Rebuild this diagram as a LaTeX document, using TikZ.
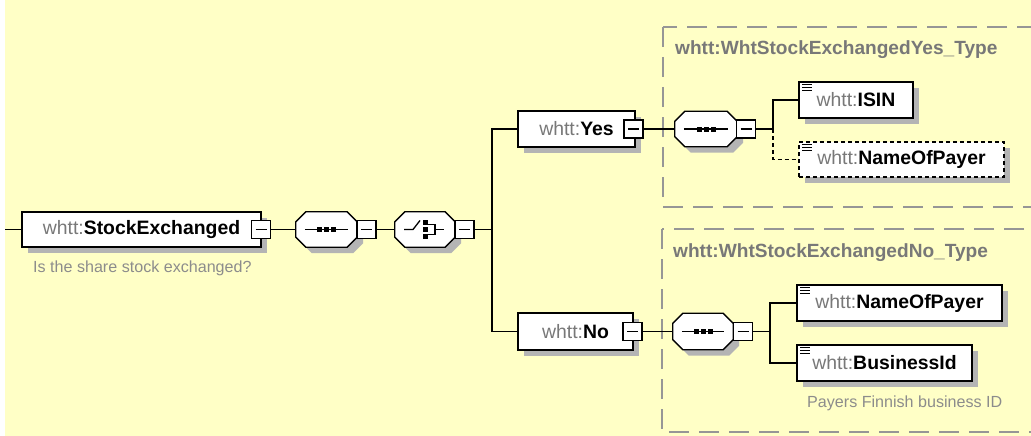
\documentclass[tikz,border=0pt]{standalone}
\usepackage{fontspec}
\setmainfont{Liberation Sans}
\usetikzlibrary{shadows}
\definecolor{bg}{RGB}{255,255,198}
\definecolor{shadowc}{RGB}{180,180,180}
\definecolor{tgrey}{RGB}{120,120,120}
\definecolor{dgrey}{RGB}{140,140,140}
\definecolor{framec}{RGB}{150,150,150}
\newcommand\wt[1]{{\color{tgrey}\mdseries whtt:}\textbf{#1}}
\newcommand\octagon[1]{%
  \fill[shadowc] ([shift={(16,6)}]#1.north west) -- ([shift={(-4,6)}]#1.north east) -- ([shift={(6,16)}]#1.north east) -- ([shift={(6,-4)}]#1.south east) -- ([shift={(-4,6)}]#1.south east) -- ([shift={(16,6)}]#1.south west) -- ([shift={(6,-4)}]#1.south west) -- ([shift={(6,16)}]#1.north west) -- cycle;
  \filldraw[fill=white, line width=1.3pt] ([shift={(10,0)}]#1.north west) -- ([shift={(-10,0)}]#1.north east) -- ([shift={(0,10)}]#1.north east) -- ([shift={(0,-10)}]#1.south east) -- ([shift={(-10,0)}]#1.south east) -- ([shift={(10,0)}]#1.south west) -- ([shift={(0,-10)}]#1.south west) -- ([shift={(0,10)}]#1.north west) -- cycle;}
\newcommand\seqicon[1]{%
  \draw[conn] ([xshift=9pt]#1.west) -- ([xshift=-9pt]#1.east);
  \foreach \dx in {-7,0,7} \fill ([shift={(\dx-2.5,-2.5)}]#1.center) rectangle +(5,5);}
\newcommand\choiceicon[1]{%
  \draw[conn] ([shift={(-21,0)}]#1.center) -- ([shift={(-12,0)}]#1.center) -- ([shift={(-5,-9)}]#1.center);
  \foreach \dy in {-7,0,7} \fill ([shift={(-2.5,\dy-2.5)}]#1.center) rectangle +(5,5);
  \draw[conn] ([shift={(3,-5)}]#1.center) -- ([shift={(10,-5)}]#1.center) -- ([shift={(10,5)}]#1.center) -- ([shift={(3,5)}]#1.center);
  \draw[conn] ([shift={(10,0)}]#1.center) -- ([shift={(19,0)}]#1.center);}
\newcommand\simpleicon[1]{%
  \foreach \d in {3,6,9} \draw[line width=1.4pt] ([shift={(4,\d)}]#1.north west) -- ++(10,0);}
\tikzset{
  conn/.style={line width=1.3pt},
  dconn/.style={line width=1.3pt, dash pattern=on 4pt off 3pt},
  elem/.style={draw, line width=1.3pt, fill=white, minimum height=36pt, inner sep=0pt,
    font=\fontsize{19.4}{21}\selectfont,
    drop shadow={shadow xshift=6pt, shadow yshift=-6pt, fill=shadowc, opacity=1}},
  minusbox/.style={draw, line width=1.3pt, fill=white, minimum width=19pt, minimum height=18pt, inner sep=0pt,
    path picture={\draw[line width=1.3pt] ([xshift=4pt]path picture bounding box.west) -- ([xshift=-4pt]path picture bounding box.east);}},
  octnode/.style={minimum width=61pt, minimum height=35pt, inner sep=0pt},
  frame/.style={draw=framec, line width=1.5pt, dash pattern=on 20pt off 10pt},
  title/.style={anchor=west, text=tgrey, font=\fontsize{19.1}{21}\selectfont\bfseries, inner sep=0pt},
  descr/.style={anchor=west, text=dgrey, font=\fontsize{16.1}{18}\selectfont, inner sep=0pt},
}
\begin{document}
\begin{tikzpicture}[x=1pt,y=-1pt]
\useasboundingbox (0,0) rectangle (1031,436);
\clip (0,0) rectangle (1031,436);
\fill[bg] (0,0) rectangle (1031,436);
\fill[white] (0,0) rectangle (5,436);
% frames
\draw[frame] (663,27) rectangle (1045,207);
\draw[frame] (662,229) rectangle (1045,432);
\node[title] (ytitle) at (675,50) {whtt:WhtStockExchangedYes\_Type};
\node[title] (ntitle) at (673,253) {whtt:WhtStockExchangedNo\_Type};
% root
\node[elem, minimum width=239pt, minimum height=35pt] (se) at (141.5,229.5) {\wt{StockExchanged}};
\node[minusbox] (sem) at (261,229.5) {};
\node[descr] (sedesc) at (33,268) {Is the share stock exchanged?};
\coordinate (start) at (5,229.5);
% sequence 1
\node[octnode] (seq1) at (326.5,229.5) {};
\octagon{seq1}\seqicon{seq1}
\node[minusbox] (seq1m) at (366.5,229.5) {};
% choice
\node[octnode, minimum width=60pt] (ch) at (425,229.5) {};
\octagon{ch}\choiceicon{ch}
\node[minusbox] (chm) at (464.5,229.5) {};
\coordinate (jn) at (492,229.5);
% Yes / No
\node[elem, minimum width=117pt] (yes) at (576.5,129) {\wt{Yes}};
\node[minusbox] (yesm) at (633.5,129) {};
\node[elem, minimum width=115pt, minimum height=37pt] (no) at (575.5,331.5) {\wt{No}};
\node[minusbox] (nom) at (632.5,331.5) {};
% Yes type
\node[octnode, minimum width=62pt] (yseq) at (706,129) {};
\octagon{yseq}\seqicon{yseq}
\node[minusbox] (yseqm) at (746,129) {};
\coordinate (yj) at (773,129);
\node[elem, minimum width=114pt] (isin) at (856,100) {\wt{ISIN}};
\simpleicon{isin}
\node[elem, minimum width=205pt, minimum height=35pt, dash pattern=on 4pt off 3pt] (nop1) at (901.5,159.5) {\wt{NameOfPayer}};
\simpleicon{nop1}
% No type
\node[octnode, minimum width=60pt, minimum height=36pt] (nseq) at (703,331.5) {};
\octagon{nseq}\seqicon{nseq}
\node[minusbox] (nseqm) at (743,331.5) {};
\coordinate (nj) at (770,331.5);
\node[elem, minimum width=205pt] (nop2) at (899.5,303) {\wt{NameOfPayer}};
\simpleicon{nop2}
\node[elem, minimum width=175pt] (bid) at (884.5,363) {\wt{BusinessId}};
\simpleicon{bid}
\node[descr] (biddesc) at (807,403) {Payers Finnish business ID};
% connectors
\draw[conn] (start) -- (se.west);
\draw[conn] (sem.east) -- (seq1.west);
\draw[conn] (seq1m.east) -- (ch.west);
\draw[conn] (chm.east) -- (jn);
\draw[conn] (yes.west) -| (jn) |- (no.west);
\draw[conn] (yesm.east) -- (yseq.west);
\draw[conn] (yseqm.east) -- (yj);
\draw[conn] (isin.west) -| (yj);
\draw[dconn] (yj) |- (nop1.west);
\draw[conn] (nom.east) -- (nseq.west);
\draw[conn] (nseqm.east) -- (nj);
\draw[conn] (nop2.west) -| (nj) |- (bid.west);
\end{tikzpicture}
\end{document}
